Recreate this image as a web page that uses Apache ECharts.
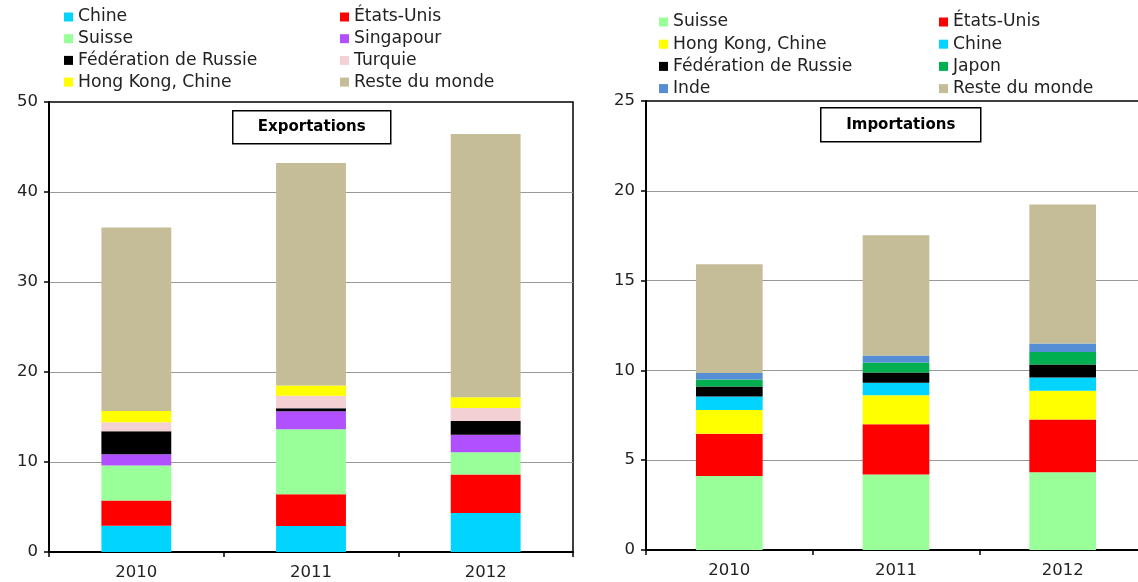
<!DOCTYPE html>
<html>
<head>
<meta charset="utf-8">
<script src="https://cdn.jsdelivr.net/npm/echarts@6/dist/echarts.min.js"></script>
<style>
  html, body { margin: 0; padding: 0; background: #fff; }
  #chart { width: 1138px; height: 582px; }
</style>
</head>
<body>
<div id="chart"></div>
<script>
// Years on both category axes
const years = ['2010', '2011', '2012'];

// Exports, stacked from bottom to top (values per year)
const expChine = [2.93, 2.89, 4.33];
const expEtatsUnis = [2.78, 3.52, 4.27];
const expSuisse = [3.89, 7.22, 2.48];
const expSingapour = [1.26, 2.00, 1.96];
const expRussie = [2.55, 0.33, 1.52];
const expTurquie = [1.00, 1.41, 1.44];
const expHongKong = [1.26, 1.14, 1.19];
const expReste = [20.38, 24.70, 29.25];

// Imports, stacked from bottom to top (values per year)
const impSuisse = [4.12, 4.21, 4.33];
const impEtatsUnis = [2.35, 2.79, 2.94];
const impHongKong = [1.33, 1.62, 1.59];
const impChine = [0.74, 0.69, 0.74];
const impRussie = [0.56, 0.57, 0.73];
const impJapon = [0.39, 0.56, 0.69];
const impInde = [0.36, 0.39, 0.48];
const impReste = [6.06, 6.70, 7.74];

// Tick values of the two value axes
const expTicks = { min: 0, max: 50, interval: 10 };
const impTicks = { min: 0, max: 25, interval: 5 };

const colors = {
  'Chine': '#00d4ff',
  'États-Unis': '#ff0000',
  'Suisse': '#99ff99',
  'Singapour': '#b050ff',
  'Fédération de Russie': '#000000',
  'Turquie': '#f2d0d4',
  'Hong Kong, Chine': '#ffff00',
  'Reste du monde': '#c4bd97',
  'Japon': '#00b050',
  'Inde': '#558ed5'
};

const FONT = 'DejaVu Sans, Verdana, sans-serif';
const TEXT = '#222';

const exportSeries = [
  ['Chine', expChine], ['États-Unis', expEtatsUnis], ['Suisse', expSuisse],
  ['Singapour', expSingapour], ['Fédération de Russie', expRussie],
  ['Turquie', expTurquie], ['Hong Kong, Chine', expHongKong],
  ['Reste du monde', expReste]
];
const importSeries = [
  ['Suisse', impSuisse], ['États-Unis', impEtatsUnis], ['Hong Kong, Chine', impHongKong],
  ['Chine', impChine], ['Fédération de Russie', impRussie], ['Japon', impJapon],
  ['Inde', impInde], ['Reste du monde', impReste]
];

function bars(list, idx, stack) {
  return list.map(([name, values]) => ({
    name, type: 'bar', stack, data: values,
    xAxisIndex: idx, yAxisIndex: idx,
    barWidth: '40%',
    itemStyle: { color: colors[name] },
    emphasis: { disabled: true }
  }));
}

function legend(names, left, top, gap) {
  return {
    data: names, orient: 'vertical', left, top, padding: 0,
    icon: 'rect', itemWidth: 9, itemHeight: 9, itemGap: gap,
    selectedMode: false,
    textStyle: { fontFamily: FONT, fontSize: 17.2, color: TEXT, lineHeight: 20 }
  };
}

function xAxis(idx) {
  return {
    type: 'category', gridIndex: idx, data: years,
    axisLine: { lineStyle: { color: '#000', width: 2 } },
    axisTick: { show: true, length: 5, lineStyle: { color: '#000', width: 1.5 } },
    axisLabel: { fontFamily: FONT, fontSize: 16.5, color: TEXT, margin: 12 }
  };
}

function yAxis(idx, t) {
  return {
    type: 'value', gridIndex: idx, min: t.min, max: t.max, interval: t.interval,
    axisLine: { show: true, lineStyle: { color: '#000', width: 2 } },
    axisTick: { show: true, length: 5, lineStyle: { color: '#000', width: 1.5 } },
    axisLabel: { fontFamily: FONT, fontSize: 16.5, color: TEXT, margin: 11 },
    splitLine: { show: true, showMinLine: false, showMaxLine: false,
                 lineStyle: { color: '#999', width: 1.2 } }
  };
}

function titleBox(label, x, y, w, h) {
  return {
    type: 'group', left: x, top: y,
    children: [
      { type: 'rect', shape: { x: 0, y: 0, width: w, height: h },
        style: { fill: '#fff', stroke: '#000', lineWidth: 1.5 } },
      { type: 'text', x: w / 2, y: h / 2,
        style: { text: label, fontFamily: FONT, fontSize: 15, fontWeight: 'bold',
                 fill: '#000', align: 'center', verticalAlign: 'middle' } }
    ]
  };
}

const chart = echarts.init(document.getElementById('chart'), null, { renderer: 'canvas' });
chart.setOption({
  animation: false,
  backgroundColor: '#fff',
  legend: [
    legend(['Chine', 'Suisse', 'Fédération de Russie', 'Hong Kong, Chine'], 64, 7, 1.7),
    legend(['États-Unis', 'Singapour', 'Turquie', 'Reste du monde'], 340, 7, 1.7),
    legend(['Suisse', 'Hong Kong, Chine', 'Fédération de Russie', 'Inde'], 659, 12, 2.2),
    legend(['États-Unis', 'Chine', 'Japon', 'Reste du monde'], 939, 12, 2.2)
  ],
  grid: [
    { left: 49, top: 102, width: 524, height: 450, show: true, outerBoundsMode: 'none',
      borderColor: '#000', borderWidth: 1.5, backgroundColor: 'transparent' },
    { left: 646, top: 101, width: 500, height: 449, show: true, outerBoundsMode: 'none',
      borderColor: '#000', borderWidth: 1.5, backgroundColor: 'transparent' }
  ],
  xAxis: [xAxis(0), xAxis(1)],
  yAxis: [yAxis(0, expTicks), yAxis(1, impTicks)],
  series: [...bars(exportSeries, 0, 'exp'), ...bars(importSeries, 1, 'imp')],
  graphic: [
    titleBox('Exportations', 232, 110, 158, 33),
    titleBox('Importations', 820, 107, 160, 34)
  ]
});
</script>
</body>
</html>
